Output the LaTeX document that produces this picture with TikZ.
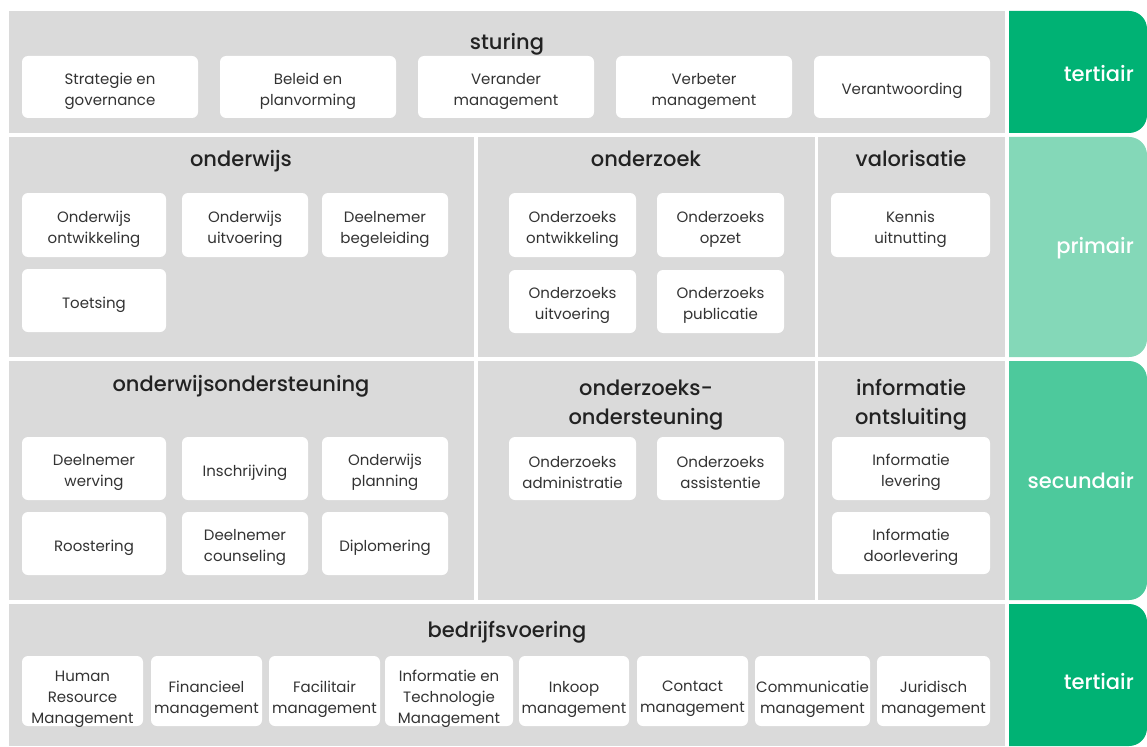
\documentclass[tikz,border=0pt]{standalone}
\usepackage{fontspec}
\setmainfont{Poppins}
\newfontfamily\headfont{Poppins}[UprightFont=* Medium]
\definecolor{panelgray}{HTML}{DADADA}
\definecolor{bodytext}{HTML}{333333}
\definecolor{headtext}{HTML}{222222}
\definecolor{tabdark}{HTML}{00B274}
\definecolor{tablight}{HTML}{84D8B8}
\definecolor{tabmid}{HTML}{4DC99C}
\tikzset{
  panel/.style={fill=panelgray},
  tilebox/.style={fill=white, rounded corners=6pt, inner sep=0pt},
  tiletext/.style={align=center, inner sep=0pt, text=bodytext,
    font=\fontsize{15}{21}\selectfont},
  head/.style={align=center, inner sep=0pt, text=headtext,
    font=\headfont\fontsize{21}{29}\selectfont},
  tablabel/.style={anchor=base east, inner sep=0pt, text=white,
    font=\headfont\fontsize{21}{25}\selectfont},
}
% \tile[text shift]{name}{x1}{y1}{x2}{y2}{text}
\newcommand\tile[7][4]{%
  \node[tilebox, minimum width={(#5-#3)*1pt}, minimum height={(#6-#4)*1pt}]
    (#2) at ({(#3+#5)/2},{(#4+#6)/2}) {};
  \node[tiletext, yshift=-#1pt] (#2-t) at (#2.center) {#7};}
% \sidetab{colour}{y1}{y2}: tab with rounded right-hand corners
\newcommand\sidetab[3]{%
  \begin{scope}
    \clip (1009,#2) rectangle (1147,#3);
    \fill[#1, rounded corners=18pt] (980,#2) rectangle (1147,#3);
  \end{scope}}
\begin{document}
\begin{tikzpicture}[x=1pt, y=-1pt]
\useasboundingbox (0,0) rectangle (1147,746);
\fill[white] (0,0) rectangle (1147,746);

% background panels
\fill[panel] (9,11) rectangle (1005,133);
\fill[panel] (9,137) rectangle (474,357);
\fill[panel] (478,137) rectangle (815,357);
\fill[panel] (818,137) rectangle (1005,357);
\fill[panel] (9,361) rectangle (474,600);
\fill[panel] (478,361) rectangle (815,600);
\fill[panel] (818,361) rectangle (1005,600);
\fill[panel] (9,604) rectangle (1005,746);

% side tabs
\sidetab{tabdark}{11}{133}
\sidetab{tablight}{137}{357}
\sidetab{tabmid}{361}{600}
\sidetab{tabdark}{604}{746}
\node[tablabel] (t1) at (1134,82) {tertiair};
\node[tablabel] (t2) at (1134,253) {primair};
\node[tablabel] (t3) at (1134,488) {secundair};
\node[tablabel] (t4) at (1134,689) {tertiair};

% headings
\node[head, anchor=base] (hst) at (507,50) {sturing};
\node[head, anchor=base] (how) at (241,167) {onderwijs};
\node[head, anchor=base] (hoz) at (646,167) {onderzoek};
\node[head, anchor=base] (hva) at (911,167) {valorisatie};
\node[head, anchor=base] (hos) at (241,391) {onderwijsondersteuning};
\node[head] (hzo) at (646,405) {onderzoeks-\\ondersteuning};
\node[head] (hio) at (911,405) {informatie\\ontsluiting};
\node[head, anchor=base] (hbv) at (507,637) {bedrijfsvoering};

% sturing
\tile{s1}{22}{56}{198}{118}{Strategie en\\governance}
\tile{s2}{220}{56}{396}{118}{Beleid en\\planvorming}
\tile{s3}{418}{56}{594}{118}{Verander\\management}
\tile{s4}{616}{56}{792}{118}{Verbeter\\management}
\tile{s5}{814}{56}{990}{118}{Verantwoording}

% onderwijs
\tile{o1}{22}{193}{166}{257}{Onderwijs\\ontwikkeling}
\tile{o2}{182}{193}{308}{257}{Onderwijs\\uitvoering}
\tile{o3}{322}{193}{448}{257}{Deelnemer\\begeleiding}
\tile{o4}{22}{269}{166}{332}{Toetsing}

% onderzoek
\tile{z1}{509}{193}{636}{257}{Onderzoeks\\ontwikkeling}
\tile{z2}{657}{193}{784}{257}{Onderzoeks\\opzet}
\tile{z3}{509}{270}{636}{333}{Onderzoeks\\uitvoering}
\tile{z4}{657}{270}{784}{333}{Onderzoeks\\publicatie}

% valorisatie
\tile{v1}{831}{193}{990}{257}{Kennis\\uitnutting}

% onderwijsondersteuning
\tile{w1}{22}{437}{166}{500}{Deelnemer\\werving}
\tile{w2}{182}{437}{308}{500}{Inschrijving}
\tile{w3}{322}{437}{448}{500}{Onderwijs\\planning}
\tile{w4}{22}{512}{166}{575}{Roostering}
\tile{w5}{182}{512}{308}{575}{Deelnemer\\counseling}
\tile{w6}{322}{512}{448}{575}{Diplomering}

% onderzoeksondersteuning
\tile{r1}{509}{437}{636}{500}{Onderzoeks\\administratie}
\tile{r2}{657}{437}{784}{500}{Onderzoeks\\assistentie}

% informatie ontsluiting
\tile{i1}{832}{437}{990}{500}{Informatie\\levering}
\tile{i2}{832}{512}{990}{574}{Informatie\\doorlevering}

% bedrijfsvoering
\tile[8]{b1}{22}{656}{143}{726}{Human\\Resource\\Management}
\tile[8]{b2}{151}{656}{262}{726}{Financieel\\management}
\tile[8]{b3}{269}{656}{380}{726}{Facilitair\\management}
\tile[8]{b4}{385}{656}{513}{726}{Informatie en\\Technologie\\Management}
\tile[8]{b5}{519}{656}{629}{726}{Inkoop\\management}
\tile[8]{b6}{637}{656}{748}{726}{Contact\\management}
\tile[8]{b7}{755}{656}{870}{726}{Communicatie\\management}
\tile[8]{b8}{877}{656}{990}{726}{Juridisch\\management}
\end{tikzpicture}
\end{document}
